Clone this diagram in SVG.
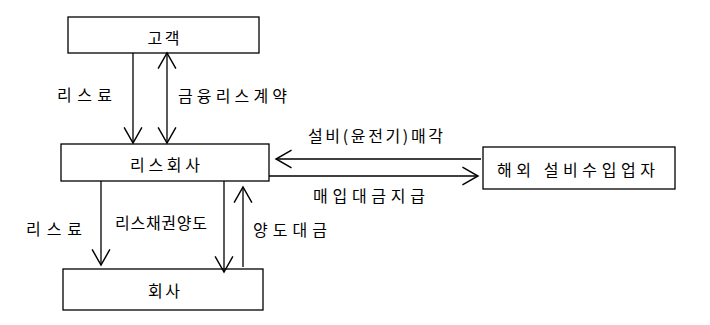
<svg xmlns="http://www.w3.org/2000/svg" width="710" height="325" viewBox="0 0 710 325">
<style>
.box{fill:#fff;stroke:#000;stroke-width:1.3}
.ln{fill:none;stroke:#000;stroke-width:1.3}
text{font-family:"Noto Sans CJK KR","Liberation Sans",sans-serif;font-size:16px;fill:#000;text-anchor:middle;dominant-baseline:central}
</style>
<defs>
<marker id="ah" markerUnits="userSpaceOnUse" markerWidth="20" markerHeight="20" viewBox="0 0 16 18" refX="15" refY="9" orient="auto-start-reverse">
<path d="M1,1 L15,9 L1,17" fill="none" stroke="#000" stroke-width="1.3"/>
</marker>
</defs>
<rect width="710" height="325" fill="#fff"/>
<g id="customer"><rect class="box" x="68" y="17" width="191" height="36"/><text x="163.5" y="36.5" textLength="32" lengthAdjust="spacing">고객</text></g>
<g id="leasing-co"><rect class="box" x="61" y="144" width="208" height="37"/><text x="165" y="163.5" textLength="70" lengthAdjust="spacing">리스회사</text></g>
<g id="company"><rect class="box" x="63" y="269" width="200" height="41"/><text x="164" y="290" textLength="32" lengthAdjust="spacing">회사</text></g>
<g id="importer"><rect class="box" x="483" y="147" width="192" height="42"/><text x="576" y="168.5" textLength="158" lengthAdjust="spacing">해외 설비수입업자</text></g>
<g id="connectors">
<line class="ln" x1="133" y1="53" x2="133" y2="143" marker-end="url(#ah)"/>
<line class="ln" x1="167" y1="53" x2="167" y2="143" marker-start="url(#ah)" marker-end="url(#ah)"/>
<line class="ln" x1="481" y1="159" x2="276" y2="159" marker-end="url(#ah)"/>
<line class="ln" x1="269" y1="176" x2="478" y2="176" marker-end="url(#ah)"/>
<line class="ln" x1="101" y1="181" x2="101" y2="265" marker-end="url(#ah)"/>
<line class="ln" x1="224" y1="181" x2="224" y2="272" marker-end="url(#ah)"/>
<line class="ln" x1="243" y1="267" x2="243" y2="187" marker-end="url(#ah)"/>
<text x="84.5" y="94" textLength="55" lengthAdjust="spacing">리스료</text>
<text x="232.5" y="94.5" textLength="109" lengthAdjust="spacing">금융리스계약</text>
<text x="375.5" y="135" textLength="135" lengthAdjust="spacing">설비(윤전기)매각</text>
<text x="369" y="194.5" textLength="112" lengthAdjust="spacing">매입대금지급</text>
<text x="54" y="228" textLength="56" lengthAdjust="spacing">리스료</text>
<text x="161" y="221.5" textLength="92" lengthAdjust="spacing">리스채권양도</text>
<text x="290" y="228.5" textLength="74" lengthAdjust="spacing">양도대금</text>
</g>
</svg>
